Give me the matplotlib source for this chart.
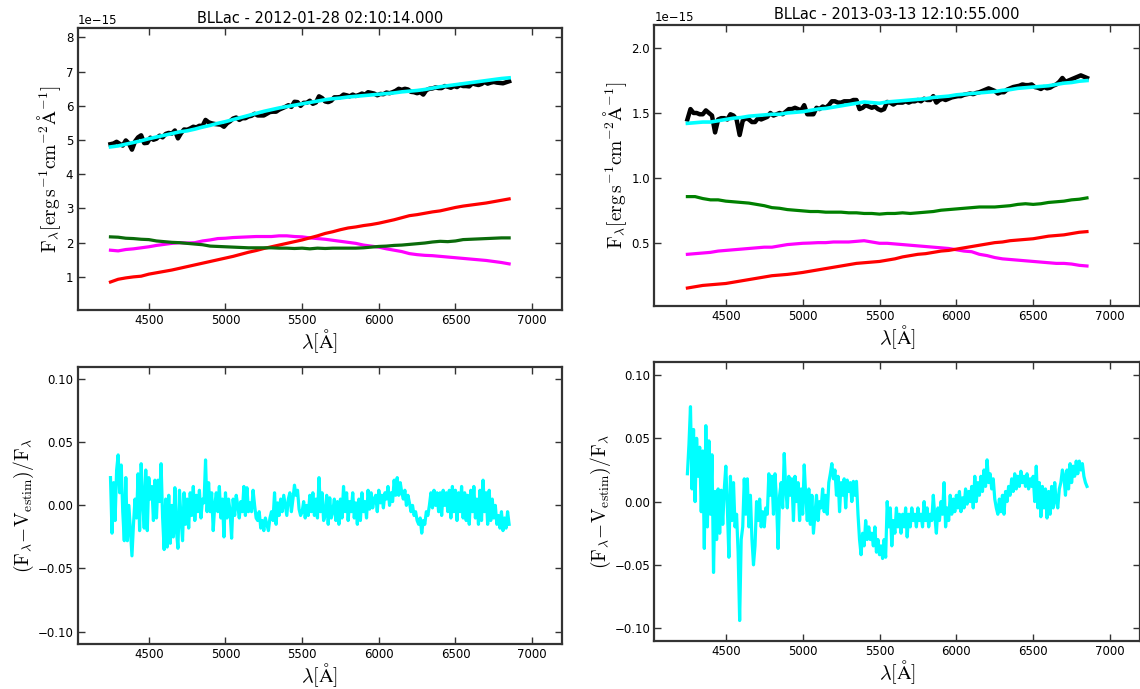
import numpy as np
import matplotlib
matplotlib.use("Agg")
import matplotlib.pyplot as plt

plt.rcParams['font.family'] = ['DejaVu Sans']
plt.rcParams['mathtext.fontset'] = 'cm'

FLUX_UNIT = 1e-15

titles = ["BLLac - 2012-01-28 02:10:14.000", "BLLac - 2013-03-13 12:10:55.000"]

# wavelength samplings (Angstrom)
wl_resid = np.arange(4250, 6851, 10)
wl_obs = np.arange(4250, 6851, 20)
wl_comp = np.arange(4250, 6851, 50)

# ---------------- 2012-01-28 (units of 1e-15) ----------------
obs_2012 = [
    4.88, 4.90, 4.95, 4.89, 4.84, 4.99, 4.90, 4.72, 4.96, 5.08,
    5.14, 4.91, 4.92, 5.07, 5.01, 5.04, 5.13, 5.08, 5.18, 5.21,
    5.19, 5.28, 5.05, 5.20, 5.31, 5.30, 5.34, 5.39, 5.37, 5.42,
    5.41, 5.59, 5.52, 5.49, 5.47, 5.46, 5.45, 5.39, 5.49, 5.55,
    5.63, 5.66, 5.59, 5.64, 5.64, 5.69, 5.71, 5.77, 5.72, 5.72,
    5.72, 5.77, 5.82, 5.83, 5.83, 5.89, 5.93, 5.97, 6.02, 5.97,
    6.12, 6.11, 6.00, 6.09, 6.09, 6.15, 6.06, 6.10, 6.28, 6.23,
    6.13, 6.11, 6.15, 6.25, 6.25, 6.26, 6.33, 6.31, 6.28, 6.33,
    6.29, 6.32, 6.36, 6.33, 6.40, 6.38, 6.36, 6.31, 6.35, 6.34,
    6.39, 6.37, 6.40, 6.44, 6.50, 6.47, 6.50, 6.48, 6.41, 6.40,
    6.37, 6.40, 6.33, 6.46, 6.50, 6.51, 6.54, 6.52, 6.52, 6.58,
    6.56, 6.53, 6.58, 6.55, 6.61, 6.58, 6.58, 6.57, 6.66, 6.63,
    6.61, 6.64, 6.70, 6.65, 6.68, 6.70, 6.68, 6.67, 6.66, 6.69,
    6.72]
model_2012 = [
    4.80, 4.83, 4.88, 4.93, 4.98, 5.04, 5.09, 5.14, 5.19, 5.24,
    5.27, 5.32, 5.38, 5.43, 5.49, 5.54, 5.60, 5.66, 5.72, 5.78,
    5.84, 5.89, 5.94, 5.98, 6.02, 6.06, 6.10, 6.14, 6.18, 6.21,
    6.23, 6.26, 6.28, 6.30, 6.32, 6.34, 6.36, 6.38, 6.41, 6.43,
    6.45, 6.48, 6.52, 6.56, 6.59, 6.62, 6.65, 6.68, 6.71, 6.74,
    6.77, 6.80, 6.82]
red_2012 = [
    0.85, 0.93, 0.97, 1.00, 1.02, 1.08, 1.12, 1.16, 1.20, 1.25,
    1.30, 1.35, 1.40, 1.45, 1.50, 1.55, 1.60, 1.66, 1.72, 1.77,
    1.83, 1.88, 1.93, 1.98, 2.03, 2.08, 2.14, 2.20, 2.27, 2.32,
    2.38, 2.43, 2.46, 2.50, 2.53, 2.57, 2.62, 2.67, 2.73, 2.79,
    2.82, 2.86, 2.90, 2.93, 2.98, 3.03, 3.07, 3.10, 3.13, 3.16,
    3.20, 3.24, 3.28]
green_2012 = [
    2.17, 2.16, 2.13, 2.12, 2.10, 2.09, 2.05, 2.03, 2.01, 2.00,
    1.98, 1.96, 1.94, 1.90, 1.89, 1.88, 1.87, 1.86, 1.85, 1.85,
    1.85, 1.85, 1.84, 1.84, 1.83, 1.84, 1.82, 1.84, 1.83, 1.84,
    1.84, 1.84, 1.84, 1.85, 1.87, 1.89, 1.90, 1.92, 1.93, 1.95,
    1.97, 1.99, 2.02, 2.04, 2.03, 2.05, 2.09, 2.10, 2.11, 2.12,
    2.13, 2.14, 2.14]
magenta_2012 = [
    1.78, 1.76, 1.80, 1.82, 1.85, 1.88, 1.92, 1.95, 1.98, 2.00,
    1.99, 2.00, 2.05, 2.08, 2.12, 2.13, 2.15, 2.16, 2.17, 2.18,
    2.18, 2.18, 2.20, 2.20, 2.18, 2.17, 2.14, 2.12, 2.10, 2.07,
    2.04, 2.01, 1.98, 1.93, 1.90, 1.87, 1.82, 1.78, 1.74, 1.68,
    1.65, 1.63, 1.62, 1.60, 1.58, 1.56, 1.54, 1.52, 1.50, 1.48,
    1.45, 1.42, 1.38]
resid_2012 = [
    0.022, -0.022, 0.018, -0.012, 0.028, 0.040, 0.010, 0.032, -0.005, -0.028,
    0.022, -0.028, 0.000, -0.020, -0.040, -0.015, 0.005, -0.010, 0.025, -0.020,
    0.033, 0.005, -0.018, 0.028, -0.020, 0.022, 0.005, 0.015, -0.012, 0.020,
    -0.010, 0.020, 0.003, 0.033, -0.010, -0.035, 0.005, -0.033, 0.008, -0.030,
    0.000, -0.025, 0.014, -0.020, -0.034, 0.012, -0.010, -0.028, 0.010, -0.015,
    0.005, -0.018, 0.010, -0.008, 0.015, -0.012, 0.008, -0.005, 0.012, -0.010,
    0.005, 0.002, 0.036, -0.005, 0.018, -0.005, 0.010, -0.020, 0.000, 0.010,
    -0.005, 0.015, -0.010, 0.005, -0.025, 0.010, -0.010, 0.005, -0.005, -0.026,
    0.005, -0.008, 0.008, 0.000, -0.010, 0.003, -0.005, 0.015, -0.008, 0.014,
    -0.005, 0.002, -0.005, 0.012, 0.000, -0.010, -0.012, -0.005, -0.018, -0.012,
    -0.020, -0.010, -0.015, -0.020, -0.010, -0.005, -0.012, 0.010, -0.015, 0.002,
    -0.008, 0.005, -0.005, 0.008, 0.000, -0.008, 0.005, 0.010, -0.005, 0.005,
    0.016, 0.008, 0.012, -0.003, -0.008, -0.005, 0.003, -0.010, 0.000, -0.008,
    0.008, -0.005, 0.010, -0.008, 0.005, -0.010, 0.022, -0.005, 0.010, -0.012,
    -0.008, 0.008, -0.015, 0.006, -0.010, -0.005, 0.005, -0.012, 0.003, -0.015,
    0.005, -0.010, 0.015, -0.005, 0.010, -0.012, 0.003, -0.005, 0.010, -0.010,
    0.002, -0.015, 0.005, -0.012, 0.010, -0.005, 0.003, -0.010, 0.012, -0.003,
    0.010, -0.002, 0.005, 0.008, -0.005, 0.012, 0.002, 0.008, -0.002, 0.010,
    0.005, 0.015, 0.000, 0.010, 0.003, 0.020, 0.008, 0.022, 0.008, 0.018,
    0.010, 0.005, 0.012, 0.000, 0.008, 0.002, -0.005, 0.000, -0.008, -0.005,
    -0.012, -0.015, -0.010, -0.022, -0.012, -0.015, -0.005, -0.008, 0.000, 0.010,
    -0.002, 0.012, 0.000, 0.010, -0.005, 0.010, -0.008, 0.012, 0.000, 0.010,
    -0.005, 0.012, -0.010, 0.015, -0.005, 0.012, -0.012, 0.010, -0.005, 0.015,
    -0.010, 0.010, -0.012, 0.008, -0.015, 0.012, -0.005, 0.015, -0.010, 0.005,
    -0.015, 0.012, -0.012, 0.020, -0.005, 0.010, -0.015, 0.012, -0.012, 0.005,
    -0.010, 0.000, -0.015, -0.008, -0.018, -0.005, -0.020, -0.010, -0.018, -0.005,
    -0.015]

# ---------------- 2013-03-13 (units of 1e-15) ----------------
obs_2013 = [
    1.45, 1.53, 1.50, 1.50, 1.49, 1.49, 1.52, 1.50, 1.48, 1.35,
    1.45, 1.46, 1.46, 1.45, 1.49, 1.48, 1.45, 1.33, 1.44, 1.46,
    1.45, 1.43, 1.43, 1.46, 1.45, 1.46, 1.47, 1.50, 1.48, 1.49,
    1.50, 1.49, 1.51, 1.53, 1.53, 1.54, 1.53, 1.52, 1.56, 1.49,
    1.49, 1.49, 1.54, 1.53, 1.55, 1.54, 1.56, 1.59, 1.59, 1.58,
    1.58, 1.59, 1.59, 1.59, 1.60, 1.60, 1.53, 1.54, 1.56, 1.55,
    1.54, 1.55, 1.53, 1.52, 1.53, 1.585, 1.58, 1.565, 1.58, 1.58,
    1.58, 1.59, 1.58, 1.59, 1.59, 1.60, 1.59, 1.61, 1.60, 1.60,
    1.63, 1.58, 1.60, 1.61, 1.60, 1.61, 1.62, 1.625, 1.63, 1.63,
    1.64, 1.645, 1.65, 1.645, 1.655, 1.66, 1.67, 1.68, 1.69, 1.68,
    1.67, 1.65, 1.66, 1.66, 1.68, 1.69, 1.70, 1.705, 1.71, 1.72,
    1.715, 1.715, 1.72, 1.70, 1.695, 1.685, 1.70, 1.69, 1.695, 1.71,
    1.72, 1.74, 1.77, 1.74, 1.75, 1.76, 1.77, 1.78, 1.79, 1.78,
    1.77]
model_2013 = [
    1.420, 1.425, 1.430, 1.430, 1.440, 1.450, 1.460, 1.465, 1.475, 1.480,
    1.485, 1.490, 1.490, 1.500, 1.505, 1.510, 1.520, 1.530, 1.535, 1.545,
    1.555, 1.565, 1.575, 1.585, 1.580, 1.575, 1.585, 1.590, 1.595, 1.600,
    1.605, 1.610, 1.620, 1.625, 1.630, 1.640, 1.645, 1.650, 1.655, 1.660,
    1.665, 1.675, 1.680, 1.690, 1.695, 1.700, 1.705, 1.710, 1.720, 1.730,
    1.735, 1.745, 1.750]
red_2013 = [
    0.150, 0.160, 0.170, 0.175, 0.180, 0.185, 0.195, 0.205, 0.215, 0.225,
    0.235, 0.245, 0.250, 0.255, 0.262, 0.270, 0.280, 0.290, 0.300, 0.310,
    0.320, 0.330, 0.340, 0.345, 0.350, 0.355, 0.365, 0.375, 0.390, 0.400,
    0.410, 0.415, 0.425, 0.435, 0.440, 0.450, 0.460, 0.470, 0.480, 0.490,
    0.500, 0.505, 0.515, 0.520, 0.525, 0.530, 0.540, 0.550, 0.555, 0.560,
    0.570, 0.580, 0.585]
green_2013 = [
    0.855, 0.855, 0.840, 0.830, 0.830, 0.820, 0.815, 0.810, 0.805, 0.795,
    0.785, 0.770, 0.765, 0.755, 0.750, 0.745, 0.740, 0.740, 0.735, 0.735,
    0.735, 0.730, 0.730, 0.725, 0.725, 0.720, 0.725, 0.725, 0.730, 0.725,
    0.730, 0.735, 0.740, 0.750, 0.755, 0.760, 0.765, 0.770, 0.775, 0.775,
    0.775, 0.780, 0.785, 0.795, 0.800, 0.795, 0.800, 0.810, 0.815, 0.820,
    0.830, 0.835, 0.845]
magenta_2013 = [
    0.410, 0.415, 0.420, 0.425, 0.435, 0.440, 0.445, 0.450, 0.455, 0.460,
    0.465, 0.465, 0.475, 0.485, 0.490, 0.495, 0.497, 0.500, 0.500, 0.505,
    0.505, 0.505, 0.510, 0.515, 0.505, 0.495, 0.495, 0.490, 0.485, 0.480,
    0.475, 0.470, 0.465, 0.460, 0.455, 0.445, 0.435, 0.430, 0.410, 0.400,
    0.385, 0.375, 0.370, 0.365, 0.360, 0.355, 0.350, 0.345, 0.340, 0.340,
    0.335, 0.325, 0.320]
resid_2013 = [
    0.022, 0.045, 0.075, 0.010, 0.057, 0.000, 0.050, 0.020, 0.043, -0.008,
    0.040, -0.037, 0.060, -0.020, 0.048, -0.010, 0.037, -0.056, 0.008, -0.030,
    0.010, -0.025, 0.009, -0.018, 0.010, 0.028, -0.005, -0.044, 0.020, -0.015,
    0.015, -0.020, -0.010, -0.040, -0.094, -0.030, -0.020, 0.018, -0.010, 0.018,
    -0.020, 0.005, -0.030, -0.050, -0.035, 0.000, -0.015, 0.002, -0.020, -0.008,
    -0.020, -0.005, -0.010, 0.022, 0.005, 0.020, -0.010, 0.022, 0.000, -0.037,
    0.005, 0.015, -0.005, 0.038, 0.010, -0.005, 0.020, 0.005, 0.018, -0.015,
    0.020, 0.000, 0.015, -0.015, 0.010, -0.010, 0.029, 0.005, -0.015, 0.010,
    -0.018, 0.005, -0.025, -0.010, 0.005, -0.015, 0.000, -0.005, 0.010, -0.008,
    0.005, -0.010, 0.015, 0.022, 0.030, 0.018, 0.025, 0.005, 0.020, -0.008,
    0.015, 0.005, 0.018, -0.005, 0.017, 0.008, 0.015, 0.000, 0.016, 0.005,
    0.016, -0.010, -0.030, -0.042, -0.025, -0.035, -0.015, -0.030, -0.020, -0.030,
    -0.025, -0.035, -0.020, -0.040, -0.030, -0.042, -0.035, -0.045, -0.030, -0.044,
    0.000, -0.020, -0.005, -0.035, -0.015, -0.025, -0.005, -0.020, -0.010, -0.025,
    -0.010, -0.020, -0.005, -0.028, -0.010, -0.020, -0.005, -0.015, -0.010, -0.020,
    -0.005, -0.015, -0.010, -0.020, 0.000, -0.015, -0.005, -0.020, -0.010, -0.015,
    0.005, -0.012, -0.025, -0.005, -0.015, 0.000, -0.010, 0.015, -0.020, -0.005,
    -0.015, 0.005, -0.010, 0.002, -0.008, 0.005, -0.005, 0.008, -0.008, 0.003,
    -0.005, 0.010, -0.002, 0.008, 0.000, 0.012, -0.005, 0.020, 0.000, 0.015,
    0.005, 0.020, 0.008, 0.025, 0.012, 0.033, 0.015, 0.022, 0.010, 0.018,
    0.002, -0.005, -0.010, 0.002, -0.008, 0.005, -0.010, 0.008, 0.000, 0.012,
    0.005, 0.018, 0.008, 0.022, 0.010, 0.020, 0.012, 0.024, 0.015, 0.020,
    0.012, 0.022, 0.010, 0.018, 0.012, 0.020, 0.000, 0.028, -0.005, 0.015,
    -0.012, 0.012, -0.005, 0.010, -0.013, 0.008, -0.010, 0.012, -0.005, 0.015,
    0.000, -0.005, 0.010, 0.015, 0.025, 0.020, 0.005, 0.025, 0.010, 0.030,
    0.015, 0.028, 0.020, 0.032, 0.022, 0.032, 0.025, 0.030, 0.020, 0.015,
    0.012]

XLIM = (4035, 7195)
FLUX_YLIM = [(0.03, 8.27), (0.012, 2.18)]
RESID_YLIM = (-0.11, 0.11)

fig = plt.figure(figsize=(11.4, 6.89), dpi=100, facecolor='white')

pos_top = [[0.068, 0.550, 0.425, 0.409], [0.574, 0.556, 0.426, 0.408]]
pos_bot = [[0.068, 0.065, 0.425, 0.403], [0.574, 0.070, 0.426, 0.404]]

datasets = [
    (obs_2012, model_2012, red_2012, green_2012, magenta_2012, resid_2012, '#0b6b0b'),
    (obs_2013, model_2013, red_2013, green_2013, magenta_2013, resid_2013, '#008000'),
]

flux_label = r'$\mathrm{F}_{\lambda}[\mathrm{erg\,s^{-1}cm^{-2}\AA^{-1}}]$'
resid_label = r'$(\mathrm{F}_{\lambda}\!-\!\mathrm{V}_{\mathrm{estim}})/\mathrm{F}_{\lambda}$'
x_label = r'$\lambda[\mathrm{\AA}]$'


def style_axes(ax):
    ax.tick_params(direction='in', top=True, right=True, length=5, width=1,
                   labelsize=8.5, pad=3, color='#333333')
    for s in ax.spines.values():
        s.set_linewidth(1.6)
        s.set_color('#333333')
    ax.set_xlim(*XLIM)
    ax.set_xticks([4500, 5000, 5500, 6000, 6500, 7000])
    ax.set_xlabel(x_label, fontsize=14.5, labelpad=0)


for i, (obs, model, red, green, mag, resid, gcol) in enumerate(datasets):
    ax = fig.add_axes(pos_top[i])
    ax.plot(wl_obs, np.array(obs) * FLUX_UNIT, color='black', lw=3.2)
    ax.plot(wl_comp, np.array(model) * FLUX_UNIT, color='#00FFFF', lw=2.6)
    ax.plot(wl_comp, np.array(mag) * FLUX_UNIT, color='#FF00FF', lw=2.3)
    ax.plot(wl_comp, np.array(red) * FLUX_UNIT, color='#FF0000', lw=2.3)
    ax.plot(wl_comp, np.array(green) * FLUX_UNIT, color=gcol, lw=2.3)
    style_axes(ax)
    lo, hi = FLUX_YLIM[i]
    ax.set_ylim(lo * FLUX_UNIT, hi * FLUX_UNIT)
    if i == 0:
        ax.set_yticks(np.arange(1, 9) * FLUX_UNIT)
    else:
        ax.set_yticks(np.array([0.5, 1.0, 1.5, 2.0]) * FLUX_UNIT)
    ax.yaxis.get_offset_text().set_fontsize(8.5)
    ax.set_ylabel(flux_label, fontsize=14, labelpad=2)
    ax.set_title(titles[i], fontsize=10.5, pad=4)

    axb = fig.add_axes(pos_bot[i])
    axb.plot(wl_resid, resid, color='#00FFFF', lw=2.3)
    style_axes(axb)
    axb.set_ylim(*RESID_YLIM)
    axb.set_yticks([-0.10, -0.05, 0.00, 0.05, 0.10])
    axb.set_ylabel(resid_label, fontsize=14, labelpad=1)

fig.savefig('out.png', dpi=100, facecolor='white')
